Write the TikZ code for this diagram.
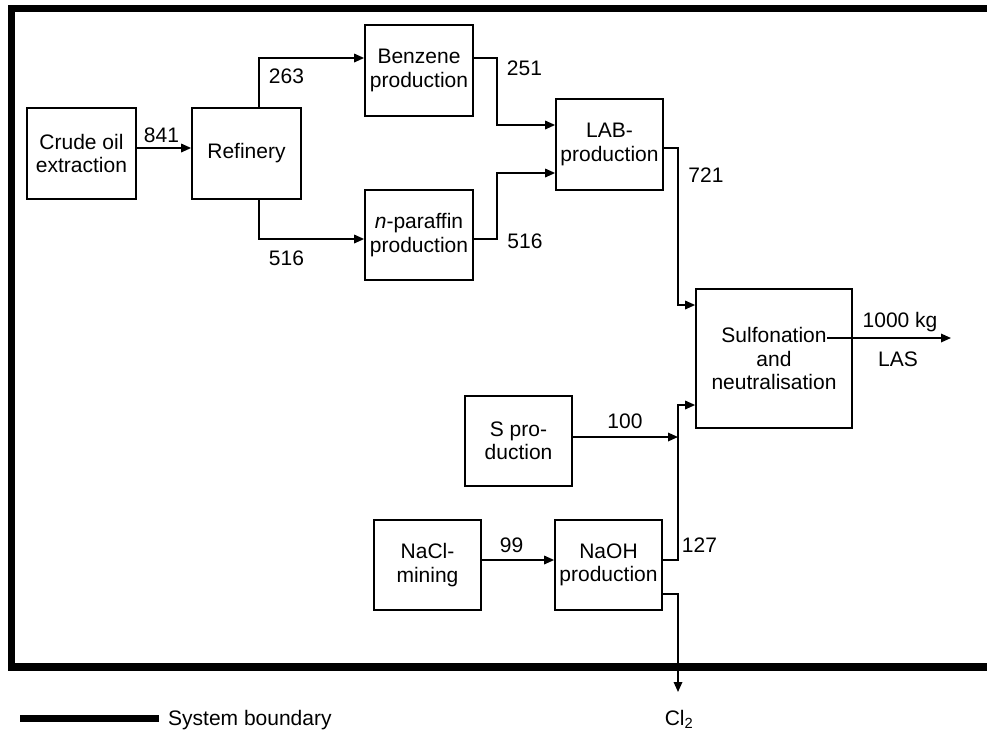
\documentclass[tikz,border=0pt]{standalone}
\usepackage{fontspec}
\setmainfont{Liberation Sans}
\usetikzlibrary{arrows.meta,calc}
\begin{document}
\begin{tikzpicture}[x=1pt,y=-1pt,
  every node/.style={font=\fontsize{21}{23.5}\selectfont},
  proc/.style={draw, line width=1.7pt, inner sep=0pt, align=center},
  flow/.style={line width=1.7pt, -{Triangle[length=10pt,width=8.5pt]}},
  lbl/.style={anchor=base, inner sep=0pt},
  boundary/.style={line width=7.5pt}]
\useasboundingbox (0,0) rectangle (987,731);

% system boundary (open to the right)
\draw[boundary] (987,8.5) -- (11.5,8.5) -- (11.5,667) -- (987,667);

% process boxes
\node[proc, minimum width=109pt, minimum height=91pt] (crude) at (81.5,153.5) {Crude oil\\extraction};
\node[proc, minimum width=109pt, minimum height=91pt] (refinery) at (246.5,153.5) {Refinery};
\node[proc, minimum width=108pt, minimum height=91pt] (benzene) at (419,70.5) {Benzene\\production};
\node[proc, minimum width=108pt, minimum height=90pt] (npar) at (419,235) {\textit{n}-paraffin\\production};
\node[proc, minimum width=107pt, minimum height=91pt] (lab) at (609.5,144.5) {LAB-\\production};
\node[proc, minimum width=156pt, minimum height=139pt] (sulf) at (774,358.5) {Sulfonation\\and\\neutralisation};
\node[proc, minimum width=107pt, minimum height=90pt] (sprod) at (518.5,441) {S pro-\\duction};
\node[proc, minimum width=107pt, minimum height=90pt] (nacl) at (427.5,565) {NaCl-\\mining};
\node[proc, minimum width=107pt, minimum height=90pt] (naoh) at (608.5,565) {NaOH\\production};

% free ends of the open connectors
\coordinate (sjoin) at (678,437);
\coordinate (cltip) at (678,692);
\coordinate (lasfrom) at (827,338);
\coordinate (lasto) at (951,338);

% material flows
\draw[flow] (crude.east |- 0,148) -- (refinery.west |- 0,148);
\draw[flow] (refinery.north -| 259,0) |- (benzene.west |- 0,58);
\draw[flow] (refinery.south -| 259,0) |- (npar.west |- 0,239);
\draw[flow] (benzene.east |- 0,58) -| (497,125) -- (lab.west |- 0,125);
\draw[flow] (npar.east |- 0,239) -| (497,173) -- (lab.west |- 0,173);
\draw[flow] (lab.east |- 0,148) -| (678,305) -- (sulf.west |- 0,305);
\draw[flow] (sprod.east |- 0,437) -- (sjoin);
\draw[flow] (naoh.east |- 0,560) -| (678,405) -- (sulf.west |- 0,405);
\draw[flow] (nacl.east |- 0,560) -- (naoh.west |- 0,560);
\draw[flow] (naoh.east |- 0,594) -| (cltip);
\draw[flow] (lasfrom) -- (lasto);

% flow quantities
\node[lbl] (q841) at (161.5,142) {841};
\node[lbl] (q263) at (286.5,83) {263};
\node[lbl] (q516a) at (286.5,265) {516};
\node[lbl] (q251) at (524.5,75) {251};
\node[lbl] (q516b) at (525,248) {516};
\node[lbl] (q721) at (706,182) {721};
\node[lbl] (q1000) at (900,327) {1000 kg};
\node[lbl] (las) at (898,366) {LAS};
\node[lbl] (q100) at (625,428) {100};
\node[lbl] (q99) at (511.5,552) {99};
\node[lbl] (q127) at (699.5,552) {127};
\node[lbl] (cl2) at (679,725) {Cl\textsubscript{2}};

% legend
\draw[line width=7pt] (20,718.5) -- (159,718.5);
\node[lbl, anchor=base west] (legend) at (168,725) {System boundary};
\end{tikzpicture}
\end{document}
